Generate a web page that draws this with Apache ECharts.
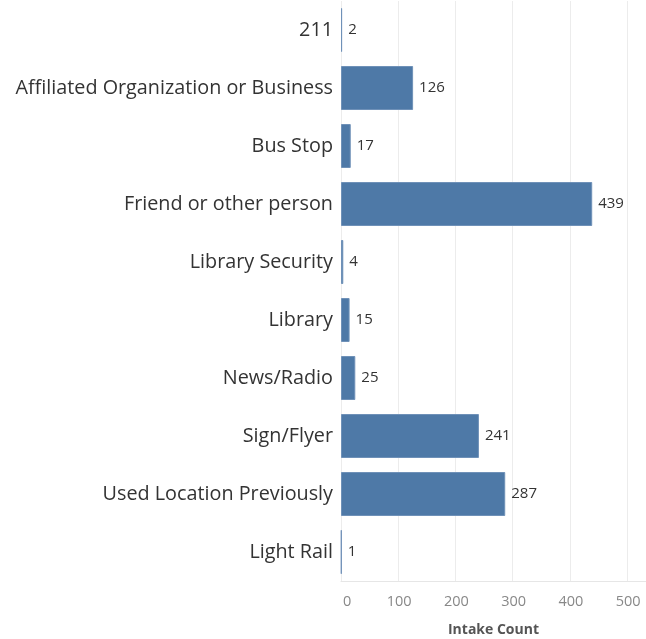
<!DOCTYPE html>
<html lang="en">
<head>
    <meta charset="UTF-8">
    <title>Intake Count by Source</title>
    <script src="https://cdn.jsdelivr.net/npm/echarts@6/dist/echarts.min.js"></script>
    <style>
        body { margin: 0; padding: 0; background: #fff; }
        #chart { width: 646px; height: 639px; }
    </style>
</head>
<body>
<div id="chart"></div>
<script>
    // data
    const categories = ['211', 'Affiliated Organization or Business', 'Bus Stop', 'Friend or other person',
        'Library Security', 'Library', 'News/Radio', 'Sign/Flyer', 'Used Location Previously', 'Light Rail'];
    const counts = [2, 126, 17, 439, 4, 15, 25, 241, 287, 1];
    const axisTitle = 'Intake Count';

    const font = 'Open Sans';
    const chart = echarts.init(document.getElementById('chart'));

    chart.setOption({
        animation: false,
        grid: { left: 341, right: 0, top: 1, height: 580, outerBoundsMode: 'none' },
        xAxis: {
            type: 'value',
            min: 0,
            max: 533,
            interval: 100,
            name: axisTitle,
            nameLocation: 'middle',
            nameGap: 42,
            nameTextStyle: { fontFamily: font, fontSize: 14, fontWeight: 'bold', color: '#555' },
            axisLine: { show: true, lineStyle: { color: '#e6e6e6' } },
            axisTick: { show: false },
            axisLabel: {
                showMaxLabel: false,
                fontFamily: font, fontSize: 14.5, color: '#888', margin: 13,
                alignMinLabel: 'left', padding: [0, 0, 0, 2]
            },
            splitLine: { show: true, lineStyle: { color: '#ececec' } }
        },
        yAxis: {
            type: 'category',
            data: categories,
            inverse: true,
            axisLine: { show: false },
            axisTick: { show: false },
            axisLabel: { fontFamily: font, fontSize: 19.8, color: '#333', margin: 8 }
        },
        series: [{
            type: 'bar',
            data: counts,
            barWidth: 44,
            itemStyle: { color: '#4e79a7', borderColor: '#6f91b8', borderWidth: 1 },
            label: {
                show: true,
                position: 'right',
                distance: 6,
                fontFamily: font, fontSize: 15, color: '#333'
            }
        }]
    });
</script>
</body>
</html>
